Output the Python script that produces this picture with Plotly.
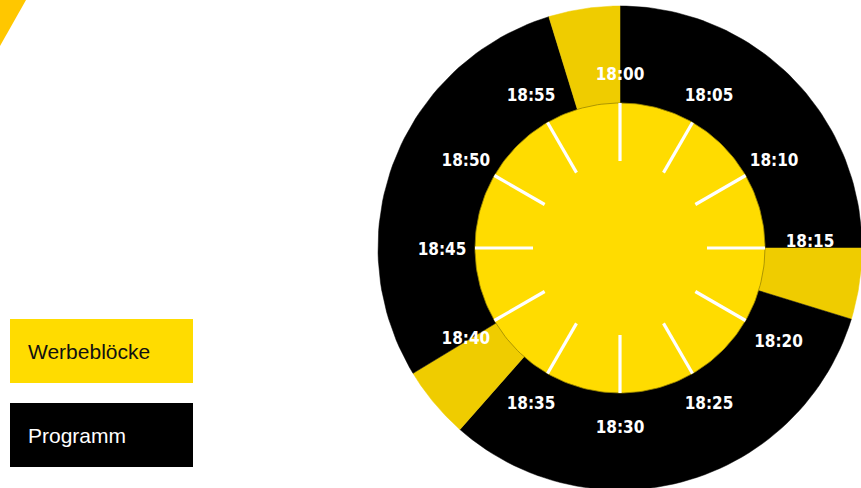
import numpy as np
import plotly.graph_objects as go

# ---- data ----
segment_start = [0.0, 15.0, 17.85, 36.9, 39.8, 57.15]
segment_end = [15.0, 17.85, 36.9, 39.8, 57.15, 60.0]
segment_type = ["Programm", "Werbeblöcke", "Programm", "Werbeblöcke", "Programm", "Werbeblöcke"]
tick_minutes = [0, 5, 10, 15, 20, 25, 30, 35, 40, 45, 50, 55]
tick_labels = ["18:00", "18:05", "18:10", "18:15", "18:20", "18:25",
               "18:30", "18:35", "18:40", "18:45", "18:50", "18:55"]
legend_items = ["Werbeblöcke", "Programm"]

# ---- style ----
W, H = 861, 488
CX, CY = 620, 248          # clock centre in pixels
R_OUT, R_IN = 242, 145
TICK_R0 = 87
LABEL_R = 178
COL_AD_RING = "#EFCC00"
COL_YELLOW = "#FFDC00"
COL_BLACK = "#000000"

def ang(m):
    return np.deg2rad(np.asarray(m) * 6.0)

def pt(m, r):
    a = ang(m)
    return r * np.sin(a), r * np.cos(a)

fig = go.Figure()

# outer ring segments
for s, e, t in zip(segment_start, segment_end, segment_type):
    mm = np.linspace(s, e, 60)
    xs, ys = pt(mm, R_OUT)
    xs = np.concatenate([[0], xs, [0]])
    ys = np.concatenate([[0], ys, [0]])
    col = COL_AD_RING if t == "Werbeblöcke" else COL_BLACK
    fig.add_trace(go.Scatter(x=xs, y=ys, fill="toself", mode="lines",
                             line=dict(width=0.5, color=col), fillcolor=col,
                             hoverinfo="skip", showlegend=False))

# inner circle
mm = np.linspace(0, 60, 241)
xs, ys = pt(mm, R_IN)
fig.add_trace(go.Scatter(x=xs, y=ys, fill="toself", mode="lines",
                         line=dict(width=0.8, color="#9a8600"), fillcolor=COL_YELLOW,
                         hoverinfo="skip", showlegend=False))

# tick marks
tx, ty = [], []
for m in tick_minutes:
    x0, y0 = pt(m, TICK_R0)
    x1, y1 = pt(m, R_IN)
    tx += [x0, x1, None]
    ty += [y0, y1, None]
fig.add_trace(go.Scatter(x=tx, y=ty, mode="lines", line=dict(color="white", width=3.2),
                         hoverinfo="skip", showlegend=False))

# labels
lx, ly = [], []
for m, lab in zip(tick_minutes, tick_labels):
    r = LABEL_R + (5 if lab == "18:20" else 0) - (3 if lab == "18:00" else 0)
    x, y = pt(m, r)
    y -= 3
    if lab == "18:15":
        x, y = x + 12, y + 8
    lx.append(x)
    ly.append(y)
fig.add_trace(go.Scatter(x=lx, y=ly, mode="text", text=tick_labels,
                         textfont=dict(family="DejaVu Sans Condensed", size=17, color="white", weight="bold"),
                         textposition="middle center", hoverinfo="skip", showlegend=False))

def px(x):
    return x / W

def py(y):
    return 1 - y / H

shapes = []
# decorative corner triangle
shapes.append(dict(type="path", xref="paper", yref="paper",
                   path=f"M 0 {py(0)} L {px(26)} {py(0)} L 0 {py(46)} Z",
                   fillcolor="#FFC700", line=dict(width=0)))
# legend boxes
box_cols = [COL_YELLOW, COL_BLACK]
text_cols = ["#111111", "#ffffff"]
box_tops = [319, 403]
annotations = []
for item, bc, tc, top in zip(legend_items, box_cols, text_cols, box_tops):
    shapes.append(dict(type="rect", xref="paper", yref="paper",
                       x0=px(10), x1=px(193), y0=py(top + 64), y1=py(top),
                       fillcolor=bc, line=dict(width=0)))
    annotations.append(dict(xref="paper", yref="paper", x=px(26), y=py(top + 32),
                            xanchor="left", yanchor="middle", text=item, showarrow=False,
                            font=dict(family="Liberation Sans", size=21, color=tc)))

fig.update_layout(
    width=W, height=H, margin=dict(l=0, r=0, t=0, b=0),
    paper_bgcolor="white", plot_bgcolor="white",
    xaxis=dict(range=[-CX, W - CX], visible=False, fixedrange=True),
    yaxis=dict(range=[-(H - CY), CY], visible=False, fixedrange=True),
    shapes=shapes, annotations=annotations, showlegend=False,
)

fig.write_html("out.html", config={"displayModeBar": False},
               post_script="document.body.style.margin='0';document.body.style.overflow='hidden';")
